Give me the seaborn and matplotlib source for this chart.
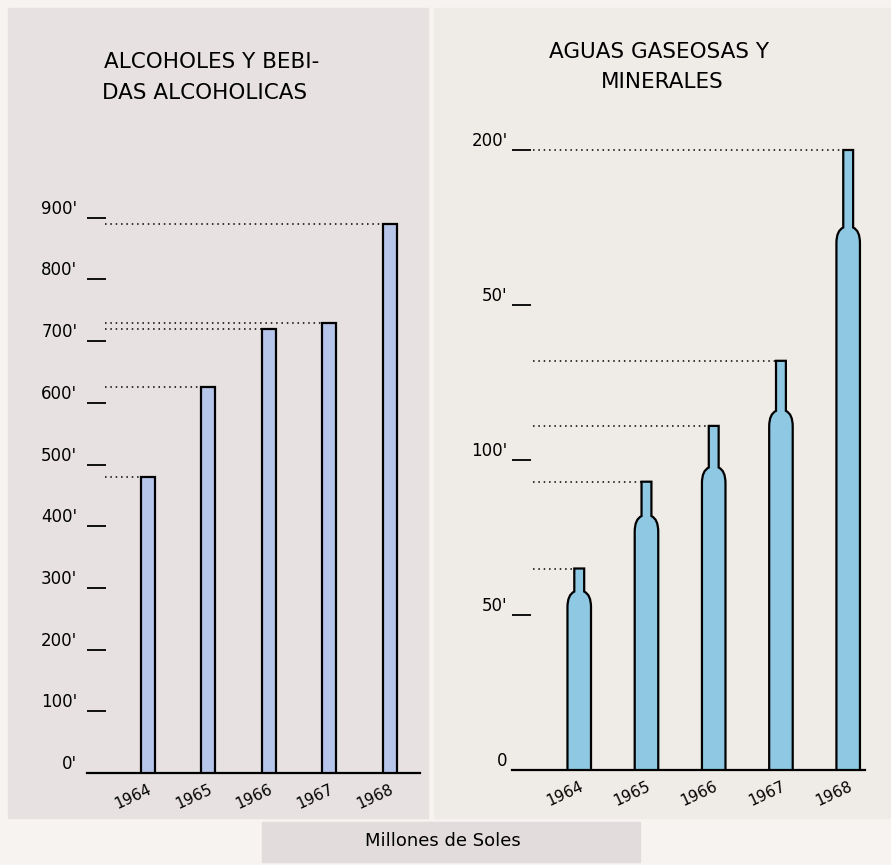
import matplotlib
matplotlib.use("Agg")
import matplotlib.pyplot as plt
from matplotlib.patches import Rectangle, PathPatch
from matplotlib.path import Path
import seaborn as sns

years = ['1964', '1965', '1966', '1967', '1968']
alcoholes = [480, 625, 720, 730, 890]        # millones de soles
aguas = [65, 93, 111, 132, 200]

alc_ticks = [0, 100, 200, 300, 400, 500, 600, 700, 800, 900]
alc_labels = ["0'", "100'", "200'", "300'", "400'", "500'", "600'", "700'", "800'", "900'"]
agua_ticks = [0, 50, 100, 150, 200]
agua_labels = ["0", "50'", "100'", "50'", "200'"]

sns.set_theme(style="white")
plt.rcParams['font.family'] = ['DejaVu Sans']

W, H = 891, 865
fig = plt.figure(figsize=(W / 100, H / 100), dpi=100)
fig.patch.set_facecolor('#f6f3f0')


def px_rect(x0, y0, x1, y1, color):
    # rectangle given in pixels from top-left
    fig.patches.append(Rectangle((x0 / W, 1 - y1 / H), (x1 - x0) / W, (y1 - y0) / H,
                                 transform=fig.transFigure, color=color, zorder=-10))


px_rect(8, 8, 428, 818, '#e7e1e1')
px_rect(434, 8, 891, 818, '#efebe7')
px_rect(262, 822, 640, 862, '#e2dddc')


def axes_px(x0, y0, x1, y1):
    return fig.add_axes([x0 / W, 1 - y1 / H, (x1 - x0) / W, (y1 - y0) / H])


ax1 = axes_px(87, 156, 420, 773)
ax2 = axes_px(512, 119, 865, 770)

# ---- panel izquierdo: alcoholes ----
sns.barplot(x=years, y=alcoholes, ax=ax1, width=0.23, color='#b6c5ea', saturation=1,
            edgecolor='black', linewidth=1.6, zorder=3)
ax1.set_xlim(-1.0, 4.5)
ax1.set_ylim(0, 1000)
ax1.hlines(alcoholes, -0.7, [i - 0.115 for i in range(len(years))],
           colors='black', linestyles=(0, (1, 2.5)), linewidth=1.1)

# ---- panel derecho: aguas, barras en forma de botella ----
sns.barplot(x=years, y=aguas, ax=ax2, width=0.35, color='#8ec8e2', saturation=1)
ax2.set_xlim(-1.0, 4.25)
ax2.set_ylim(0, 210)
for p in list(ax2.patches):
    x0, w, h = p.get_x(), p.get_width(), p.get_height()
    p.set_visible(False)
    xc = x0 + w / 2
    nw = w * 0.42
    neck_base = h * 0.87
    sh = 4.0
    verts = [(x0, 0), (x0, neck_base - sh), (x0, neck_base), (xc - nw / 2, neck_base + 1),
             (xc - nw / 2, h), (xc + nw / 2, h), (xc + nw / 2, neck_base + 1),
             (x0 + w, neck_base), (x0 + w, neck_base - sh), (x0 + w, 0), (x0, 0)]
    codes = [Path.MOVETO, Path.LINETO, Path.CURVE3, Path.CURVE3,
             Path.LINETO, Path.LINETO, Path.LINETO,
             Path.CURVE3, Path.CURVE3, Path.LINETO, Path.CLOSEPOLY]
    ax2.add_patch(PathPatch(Path(verts, codes), facecolor='#8ec8e2',
                            edgecolor='black', linewidth=1.6, zorder=3))
ax2.hlines(aguas, -0.69, [i - 0.35 * 0.21 for i in range(len(years))],
           colors='black', linestyles=(0, (1, 2.5)), linewidth=1.1)

for ax, ticks, labels, pad in [(ax1, alc_ticks, alc_labels, 7), (ax2, agua_ticks, agua_labels, 3)]:
    ax.set_facecolor('none')
    sns.despine(ax=ax, left=True)
    ax.spines['bottom'].set_color('black')
    ax.spines['bottom'].set_linewidth(1.6)
    ax.set_yticks(ticks)
    ax.set_yticklabels(labels)
    ax.tick_params(axis='y', direction='in', length=14, width=1.3, color='black',
                   left=True, pad=pad, labelsize=12, labelcolor='black')
    for t in ax.get_yticklabels():
        t.set_va('bottom')
    ax.tick_params(axis='x', length=0, pad=6, labelsize=11, labelcolor='black')
    ax.set_xticks(range(len(years)))
    ax.set_xticklabels(years, rotation=25, ha='right', rotation_mode='anchor')
    ax.set_xlabel('')
    ax.set_ylabel('')

fig.text(212 / W, 1 - 62 / H, 'ALCOHOLES Y BEBI-', ha='center', va='center', fontsize=15.5, color='black')
fig.text(205 / W, 1 - 93 / H, 'DAS ALCOHOLICAS', ha='center', va='center', fontsize=15.5, color='black')
fig.text(659 / W, 1 - 52 / H, 'AGUAS GASEOSAS Y', ha='center', va='center', fontsize=15.5, color='black')
fig.text(662 / W, 1 - 82 / H, 'MINERALES', ha='center', va='center', fontsize=15.5, color='black')
fig.text(443 / W, 1 - 841 / H, 'Millones de Soles', ha='center', va='center', fontsize=13, color='black')

fig.savefig('out.png', dpi=100, facecolor=fig.get_facecolor())
